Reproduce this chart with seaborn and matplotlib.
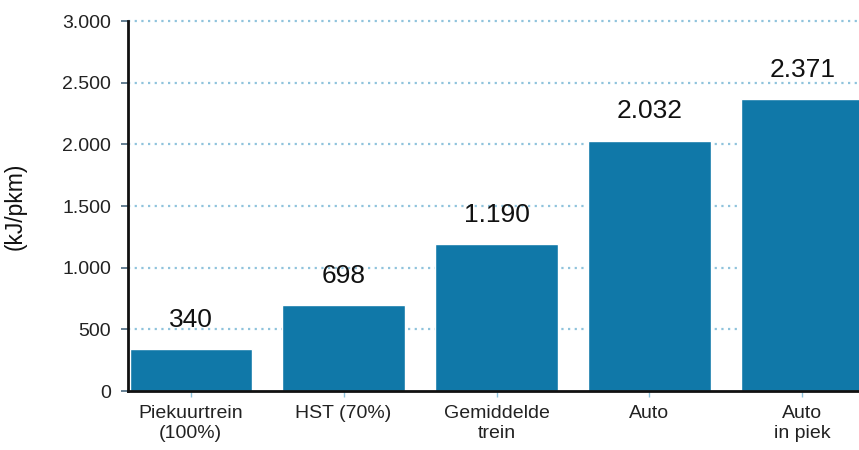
import matplotlib
matplotlib.use("Agg")
import matplotlib.pyplot as plt
import seaborn as sns
import pandas as pd

# -----------------------------
# Data
# -----------------------------
categories = ["Piekuurtrein\n(100%)", "HST (70%)", "Gemiddelde\ntrein", "Auto", "Auto\nin piek"]
values = [340, 698, 1190, 2032, 2371]
value_labels = ["340", "698", "1.190", "2.032", "2.371"]
y_ticks = [0, 500, 1000, 1500, 2000, 2500, 3000]
y_tick_labels = ["0", "500", "1.000", "1.500", "2.000", "2.500", "3.000"]

df = pd.DataFrame({"cat": categories, "val": values})

# -----------------------------
# Style
# -----------------------------
sns.set_theme(style="white")
plt.rcParams["font.family"] = ["Liberation Sans", "DejaVu Sans"]

bar_color = "#1078a8"
grid_color = "#8fc3dc"

fig = plt.figure(figsize=(8.59, 4.5), dpi=100)
ax = fig.add_axes([0.149, 0.131, 0.851, 0.822])

sns.barplot(data=df, x="cat", y="val", color=bar_color, saturation=1, width=0.8, ax=ax, zorder=3)

# dotted grid lines
for t in y_ticks[1:]:
    ax.axhline(t, color=grid_color, linestyle=(0, (1, 2)), linewidth=1.6, zorder=1, clip_on=False)

# value labels
for i, (v, lab) in enumerate(zip(values, value_labels)):
    ax.annotate(lab, (i, v), xytext=(0, 21), textcoords="offset points",
                ha="center", va="center", fontsize=19, color="#111111")

ax.set_ylim(0, 3000)
ax.set_xlim(-0.41, 4.37)
ax.set_yticks(y_ticks)
ax.set_yticklabels(y_tick_labels, fontsize=14, color="#222222")
ax.set_xticks(range(len(categories)))
ax.set_xticklabels(categories, fontsize=14, color="#222222", linespacing=1.2)
ax.set_xlabel("")
ax.set_ylabel("(kJ/pkm)", fontsize=16.5, color="#111111", labelpad=26)

ax.tick_params(axis="y", direction="out", length=5, width=1.2, color="#4a6a80", pad=7, left=True)
ax.tick_params(axis="x", direction="out", length=4, width=1, color=grid_color, pad=6, bottom=True)

for side in ["top", "right"]:
    ax.spines[side].set_visible(False)
for side in ["left", "bottom"]:
    ax.spines[side].set_color("#111111")
    ax.spines[side].set_linewidth(2)
    ax.spines[side].set_zorder(4)

fig.savefig("out.png", dpi=100)
